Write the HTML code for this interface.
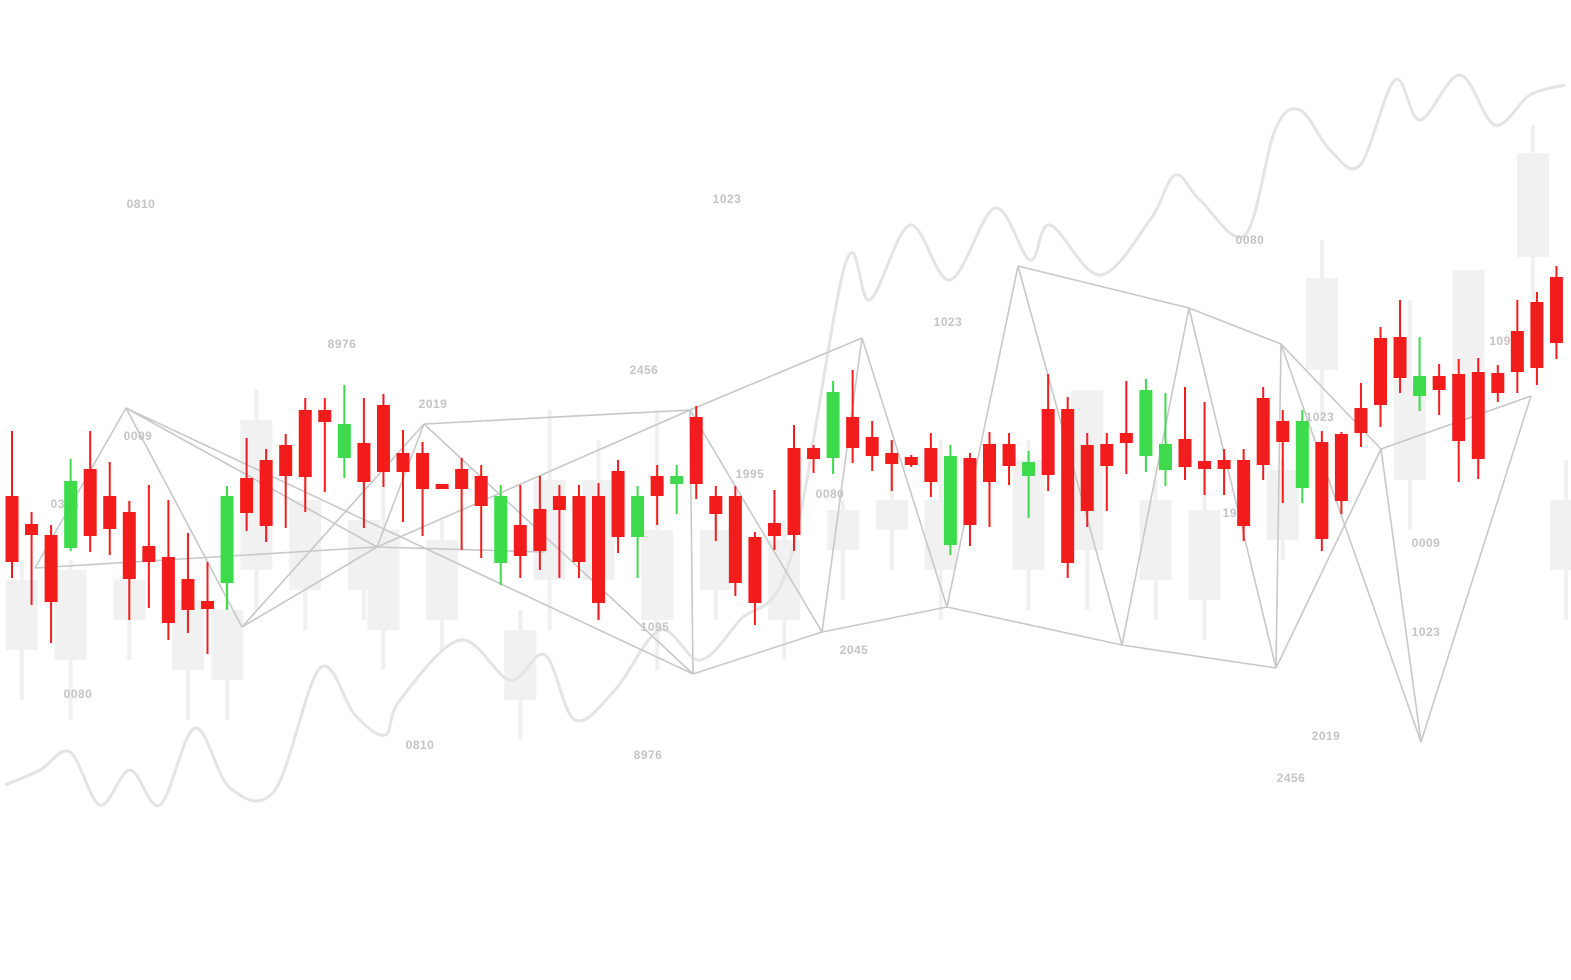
<!DOCTYPE html>
<html><head><meta charset="utf-8"><style>
html,body{margin:0;padding:0;background:#fff;}
svg{display:block;}
text{font-family:"Liberation Sans",sans-serif;font-weight:bold;font-size:12px;fill:#c4c4c4;letter-spacing:0.5px;}
</style></head><body>
<svg id="chart" width="1571" height="980" viewBox="0 0 1571 980" xmlns="http://www.w3.org/2000/svg">
<g id="ghost"></g>
<path id="wave" fill="none" stroke="#e4e4e4" stroke-width="3"/>
<g id="net"></g>
<g id="labels"></g>
<g id="candles"></g>
</svg>
<script>
// candle data in price units (price = 1000 - pixel row)
const opens  = [504,476,465,452,531,504,488,454,443,421,399,417,522,540,555,590,590,542,557,595,547,547,516,531,524,437,475,491,504,504,504,529,463,524,516,583,504,504,463,477,552,552,542,583,563,547,543,552,455,542,556,556,524,591,591,555,556,567,544,530,561,539,540,540,602,579,512,558,566,592,662,663,604,624,626,628,627,669,698,723];
const closes = [438,465,398,519,464,471,421,438,377,390,391,504,487,474,524,523,578,576,518,528,528,511,511,511,494,504,444,449,490,438,397,463,504,504,524,516,486,417,397,464,465,541,608,552,544,536,535,518,544,475,518,534,538,525,437,489,534,557,610,556,533,531,531,474,535,558,579,461,499,567,595,622,624,610,559,541,607,628,632,657];
const highs  = [569,488,475,541,569,538,499,515,500,467,438,514,562,551,566,602,602,615,602,606,570,558,516,542,535,515,515,524,515,515,517,540,514,535,535,594,514,514,468,510,575,555,619,630,579,560,545,567,555,547,568,567,549,626,603,567,567,619,621,607,613,598,551,551,613,590,590,569,568,617,673,700,663,636,641,642,635,700,708,734];
const lows   = [422,395,357,449,448,445,380,392,360,367,346,390,469,458,472,488,508,522,472,513,478,464,511,450,442,415,422,430,422,422,380,447,422,475,486,501,459,404,375,450,449,527,526,537,529,509,533,503,445,454,473,515,482,509,422,473,489,526,528,514,520,505,505,459,520,497,497,449,486,553,573,607,589,585,518,521,598,607,615,641];

// background ghost candles (price units)
const ghostIdx  = [0.5,3,6,9,11,12.5,15,18,19,22,26,27.5,30,33,36,39.5,42.5,45,47.5,52,55,58.5,61,65,67,71.5,74.5,77.8,79.5];
const ghostHigh = [440,440,500,420,430,610,530,520,520,480,390,590,560,590,490,480,500,560,560,560,610,520,560,540,760,700,700,875,540];
const ghostOpen = [420,430,420,400,390,580,500,480,470,460,370,520,520,470,470,460,490,500,500,540,610,500,490,530,722,620,730,847,500];
const ghostClose= [350,340,380,330,320,430,410,410,370,380,300,420,420,380,410,380,450,470,430,430,450,420,400,460,630,520,630,743,430];
const ghostLow  = [300,280,340,280,280,390,370,380,330,350,260,370,380,330,380,340,400,430,380,390,390,380,360,440,580,470,580,700,380];

// decorative wave points
const waveX = [5,40,70,100,130,160,195,230,275,320,355,385,400,460,510,545,575,615,660,700,740,790,845,870,910,950,995,1030,1050,1100,1150,1175,1200,1245,1275,1300,1330,1360,1395,1420,1460,1495,1530,1565];
const waveY = [785,770,752,805,770,805,728,788,790,668,715,735,700,640,680,655,720,690,630,660,620,560,265,300,225,280,208,260,225,275,220,175,200,235,130,110,150,165,80,120,75,125,95,85];

const vx = {A:126,B:35,C:242,D:377,E:424,F:690,G:693,H:862,I:822,J:947,K:1018,L:1122,M:1189,N:1276,O:1281,P:1381,Q:1421,R:1531,S:545};
const vy = {A:408,B:568,C:627,D:547,E:424,F:410,G:674,H:338,I:632,J:607,K:266,L:645,M:308,N:668,O:344,P:449,Q:742,R:396,S:552};
const edges = ["AB","BD","AC","AD","CD","CE","DE","EF","EG","DF","DS","FH","FG","FI","GI","HI","HJ","IJ","JK","KL","KM","ML","MO","MN","ON","OP","OQ","JL","LN","NP","PQ","PR","RQ","AG"];

const labelText = ["0810","1023","0080","8976","1023","2456","2019","0009","1995","0080","0335","1095","2045","0080","0810","8976","2019","2456","0009","1023","1023","109","1995"];
const labelX = [141,727,1250,342,948,644,433,138,750,830,65,655,854,78,420,648,1326,1291,1426,1426,1320,1500,1237];
const labelY = [208,203,244,348,326,374,408,440,478,498,508,631,654,698,749,759,740,782,547,636,421,345,517];

const X0 = 12, STEP = 19.55;
const xScale = i => X0 + i*STEP;
const yScale = p => 1000 - p;
const NS = "http://www.w3.org/2000/svg";
function mk(tag, attrs, parent){ const e=document.createElementNS(NS,tag); for(const k in attrs) e.setAttribute(k, attrs[k]); parent.appendChild(e); return e; }

const gG = document.getElementById('ghost');
for(let i=0;i<ghostIdx.length;i++){
  const cx = xScale(ghostIdx[i]);
  const w = mk('line',{x1:cx,x2:cx,y1:yScale(ghostHigh[i]),y2:yScale(ghostLow[i]),stroke:'#f0f0f0','stroke-width':4},gG);
  
  
  const b = mk('rect',{x:cx-16,width:32,y:yScale(ghostOpen[i]),height:yScale(ghostClose[i])-yScale(ghostOpen[i]),fill:'#f1f1f1'},gG);
  
  
}

let d = `M${waveX[0]},${waveY[0]}`;
for(let i=0;i<waveX.length-1;i++){
  const p0=[waveX[Math.max(0,i-1)],waveY[Math.max(0,i-1)]], p1=[waveX[i],waveY[i]], p2=[waveX[i+1],waveY[i+1]], p3=[waveX[Math.min(waveX.length-1,i+2)],waveY[Math.min(waveX.length-1,i+2)]];
  d += ` C${p1[0]+(p2[0]-p0[0])/6},${p1[1]+(p2[1]-p0[1])/6} ${p2[0]-(p3[0]-p1[0])/6},${p2[1]-(p3[1]-p1[1])/6} ${p2[0]},${p2[1]}`;
}
document.getElementById('wave').setAttribute('d', d);

const gN = document.getElementById('net');
edges.forEach(e=>{
  const l = mk('line',{x1:vx[e[0]],y1:vy[e[0]],x2:vx[e[1]],y2:vy[e[1]],stroke:'#c8c8c8','stroke-width':1.6},gN);
  
  
});

const gL = document.getElementById('labels');
labelText.forEach((t,i)=>{
  const e = mk('text',{x:labelX[i],y:labelY[i],'text-anchor':'middle'},gL);
  e.textContent = t;
  
  
});

const gC = document.getElementById('candles');
for(let i=0;i<opens.length;i++){
  const cx = xScale(i);
  const col = closes[i] > opens[i] ? '#3ddb4b' : '#f21c1c';
  const w = mk('line',{x1:cx,x2:cx,y1:yScale(highs[i]),y2:yScale(lows[i]),stroke:col,'stroke-width':2},gC);
  
  
  const top = yScale(Math.max(opens[i],closes[i])), bot = yScale(Math.min(opens[i],closes[i]));
  const b = mk('rect',{x:cx-6.5,width:13,y:top,height:Math.max(5,bot-top),fill:col},gC);
  
  
}
</script>
</body></html>
